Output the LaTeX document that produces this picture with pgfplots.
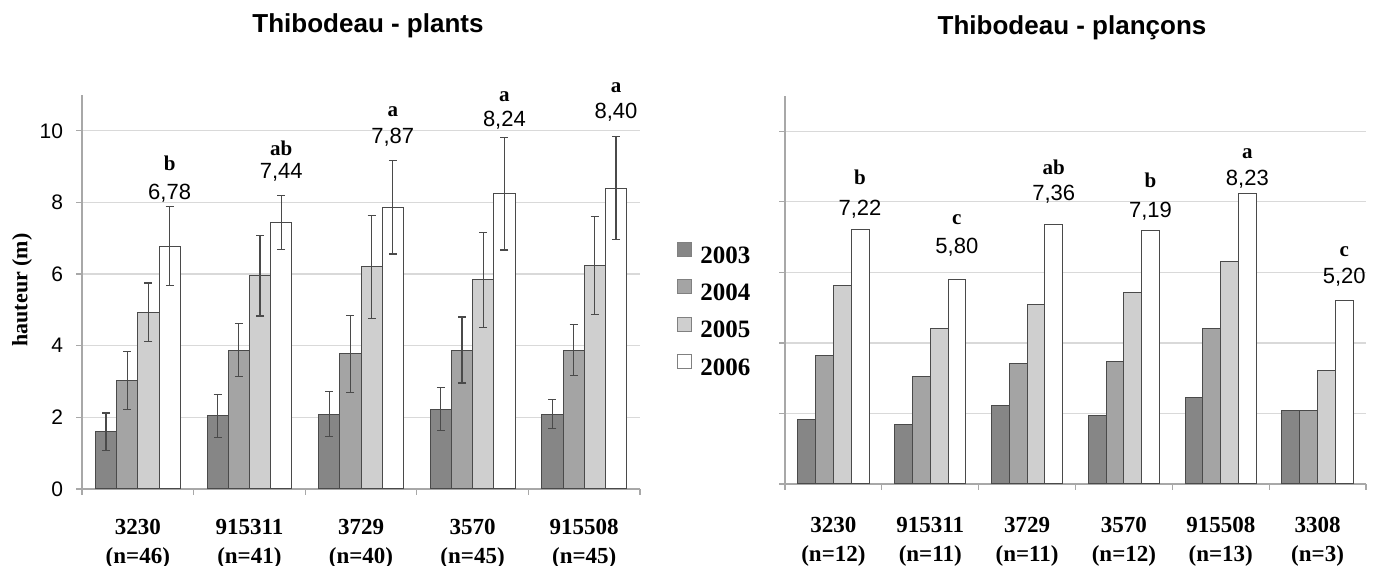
\documentclass[border=0pt]{standalone}
\usepackage{fontspec}
\setmainfont{Liberation Serif}
\setsansfont{Liberation Sans}
\usepackage{pgfplots}
\pgfplotsset{compat=1.18}

\definecolor{c03}{HTML}{868686}
\definecolor{c04}{HTML}{A4A4A4}
\definecolor{c05}{HTML}{CFCFCF}
\definecolor{c06}{HTML}{FFFFFF}
\definecolor{edge}{HTML}{4A4A4A}
\definecolor{gridc}{HTML}{D9D9D9}
\definecolor{axc}{HTML}{A8A8A8}

\tikzset{
  lett/.style={font=\fontsize{10.5}{12}\selectfont\bfseries},
  val/.style={font=\fontsize{11}{12}\selectfont\sffamily},
  s03/.style={fill=c03, draw=edge, line width=0.5pt},
  s04/.style={fill=c04, draw=edge, line width=0.5pt},
  s05/.style={fill=c05, draw=edge, line width=0.5pt},
  s06/.style={fill=c06, draw=edge, line width=0.5pt},
}

\pgfplotsset{
  base/.style={
    scale only axis, anchor=south west,
    ybar=0pt,
    ymin=0, ymax=11,
    ytick={0,2,4,6,8,10},
    ymajorgrids,
    grid style={gridc, line width=0.6pt},
    axis x line=bottom, axis y line=left,
    axis line style={axc, line width=0.6pt, -},
    tick align=outside,
    major tick length=3pt, minor tick length=3pt,
    major x tick style={draw=none},
    minor x tick style={axc, line width=0.6pt},
    y tick style={axc, line width=0.6pt},
    /pgf/number format/assume math mode=true,
    yticklabel style={font=\fontsize{10.5}{12}\selectfont\sffamily, xshift=-3pt},
    xticklabel style={align=center, font=\fontsize{11.5}{14.5}\selectfont\bfseries},
    clip=false,
    error bars/error bar style={edge, line width=0.6pt},
    error bars/error mark options={rotate=90, edge, mark size=2pt, line width=0.6pt},
  },
}

\begin{document}
\begin{tikzpicture}
\path[use as bounding box] (0pt,0pt) rectangle (690pt,283pt);

% titles
\node[font=\fontsize{13}{15}\selectfont\sffamily\bfseries] at (184pt,270pt) {Thibodeau - plants};
\node[font=\fontsize{13}{15}\selectfont\sffamily\bfseries] at (536pt,269pt) {Thibodeau - plançons};
\node[rotate=90, font=\fontsize{11}{13}\selectfont\bfseries] at (11pt,138pt) {hauteur (m)};

% ---------- left: plants ----------
\begin{axis}[base,
  at={(41pt,38.5pt)}, width=279pt, height=197pt,
  xmin=-0.5, xmax=4.5, bar width=10.6pt,
  xtick={0,1,2,3,4},
  minor xtick={-0.5,0.5,1.5,2.5,3.5,4.5},
  xticklabel style={yshift=-8.5pt},
  xticklabels={{3230\\(n=46)},{915311\\(n=41)},{3729\\(n=40)},{3570\\(n=45)},{915508\\(n=45)}},
]
\addplot[s03, error bars/.cd, y dir=both, y explicit] coordinates {
  (0,1.60) +- (0,0.52) (1,2.04) +- (0,0.60) (2,2.09) +- (0,0.63) (3,2.23) +- (0,0.60) (4,2.09) +- (0,0.40)};
\addplot[s04, error bars/.cd, y dir=both, y explicit] coordinates {
  (0,3.03) +- (0,0.80) (1,3.88) +- (0,0.75) (2,3.77) +- (0,1.07) (3,3.88) +- (0,0.92) (4,3.88) +- (0,0.72)};
\addplot[s05, error bars/.cd, y dir=both, y explicit] coordinates {
  (0,4.93) +- (0,0.82) (1,5.95) +- (0,1.12) (2,6.20) +- (0,1.44) (3,5.84) +- (0,1.33) (4,6.24) +- (0,1.36)};
\addplot[s06, error bars/.cd, y dir=both, y explicit] coordinates {
  (0,6.78) +- (0,1.10) (1,7.44) +- (0,0.76) (2,7.87) +- (0,1.31) (3,8.24) +- (0,1.57) (4,8.40) +- (0,1.43)};
\node[lett] at (axis cs:0.285,9.10) {b};
\node[val]  at (axis cs:0.285,8.27) {6,78};
\node[lett] at (axis cs:1.285,9.52) {ab};
\node[val]  at (axis cs:1.285,8.83) {7,44};
\node[lett] at (axis cs:2.285,10.53) {a};
\node[val]  at (axis cs:2.285,9.83) {7,87};
\node[lett] at (axis cs:3.285,10.95) {a};
\node[val]  at (axis cs:3.285,10.30) {8,24};
\node[lett] at (axis cs:4.285,11.20) {a};
\node[val]  at (axis cs:4.285,10.53) {8,40};
\end{axis}

% ---------- right: plançons ----------
\begin{axis}[base,
  at={(392.5pt,41pt)}, width=290.5pt, height=194pt,
  xmin=-0.5, xmax=5.5, bar width=8.9pt,
  xtick={0,1,2,3,4,5},
  minor xtick={-0.5,0.5,1.5,2.5,3.5,4.5,5.5},
  yticklabels={},
  xticklabel style={yshift=-10pt},
  xticklabels={{3230\\(n=12)},{915311\\(n=11)},{3729\\(n=11)},{3570\\(n=12)},{915508\\(n=13)},{3308\\(n=3)}},
  legend style={at={(rel axis cs:-0.186,0.625)}, anchor=north west, draw=none, fill=none,
    inner sep=0pt, font=\fontsize{12.5}{13}\selectfont\bfseries, row sep=5pt,
    nodes={inner sep=1.5pt}},
  legend cell align=left,
  legend image code/.code={\draw[#1, draw=gray] (0pt,0pt) rectangle (7pt,7pt);},
  legend style={/tikz/every odd column/.append style={column sep=2.5pt}},
]
\addplot[s03] coordinates {(0,1.82) (1,1.70) (2,2.23) (3,1.94) (4,2.44) (5,2.08)};
\addplot[s04] coordinates {(0,3.64) (1,3.05) (2,3.41) (3,3.46) (4,4.40) (5,2.08)};
\addplot[s05] coordinates {(0,5.63) (1,4.40) (2,5.09) (3,5.42) (4,6.32) (5,3.22)};
\addplot[s06] coordinates {(0,7.22) (1,5.80) (2,7.36) (3,7.19) (4,8.23) (5,5.20)};
\legend{2003,2004,2005,2006}
\node[lett] at (axis cs:0.275,8.69) {b};
\node[val]  at (axis cs:0.275,7.79) {7,22};
\node[lett] at (axis cs:1.275,7.50) {c};
\node[val]  at (axis cs:1.275,6.70) {5,80};
\node[lett] at (axis cs:2.275,8.98) {ab};
\node[val]  at (axis cs:2.275,8.22) {7,36};
\node[lett] at (axis cs:3.275,8.60) {b};
\node[val]  at (axis cs:3.275,7.74) {7,19};
\node[lett] at (axis cs:4.275,9.36) {a};
\node[val]  at (axis cs:4.275,8.63) {8,23};
\node[lett] at (axis cs:5.275,6.60) {c};
\node[val]  at (axis cs:5.275,5.85) {5,20};
\end{axis}
\end{tikzpicture}
\end{document}
